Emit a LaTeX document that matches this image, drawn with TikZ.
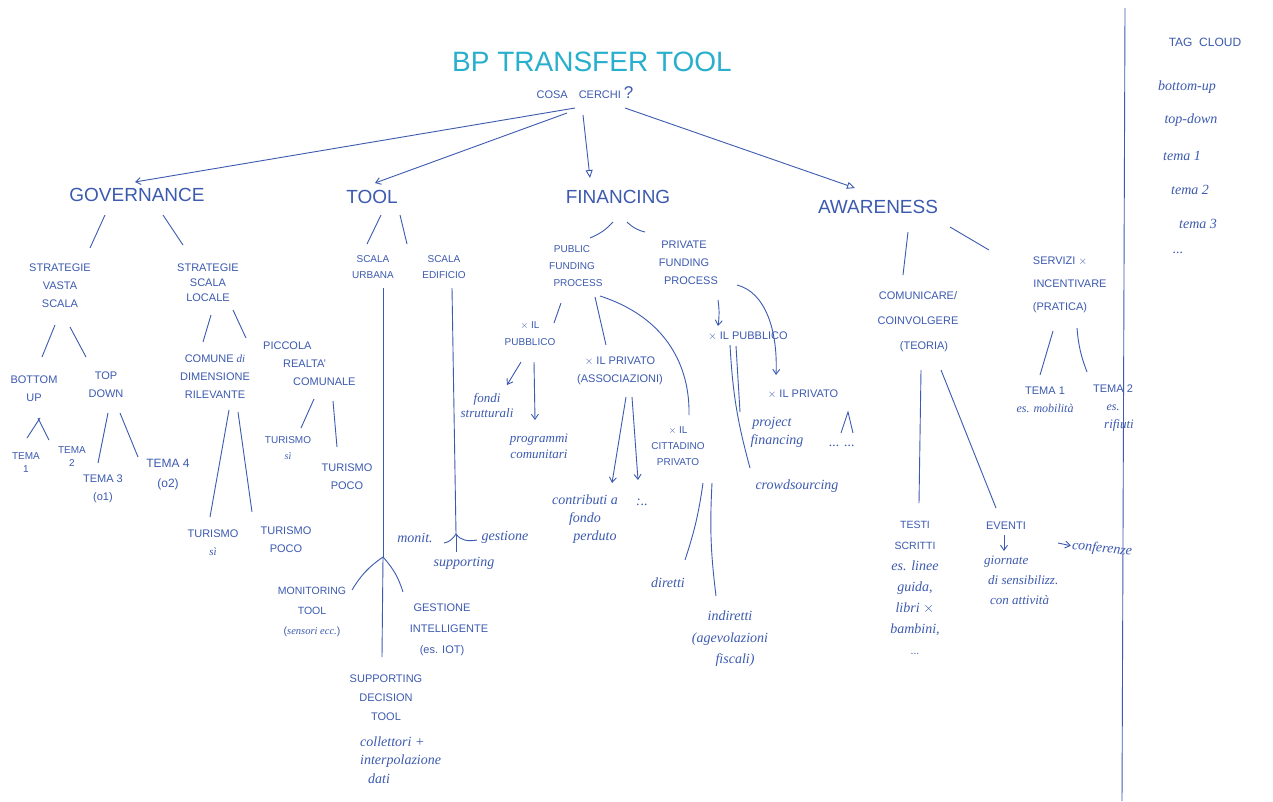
\documentclass[tikz,border=0pt]{standalone}
\usepackage{fontspec}
\setmainfont{Liberation Sans}
\newfontfamily\hand{Liberation Serif}
\usetikzlibrary{arrows.meta}
\definecolor{ink}{RGB}{60,90,175}
\definecolor{titlecol}{RGB}{40,175,205}
\tikzset{
  lab/.style={text=ink, font=\fontsize{11}{18}\selectfont, align=center, inner sep=1pt},
  big/.style={text=ink, font=\fontsize{19}{22}\selectfont, inner sep=1pt},
  cur/.style={text=ink, font=\hand\itshape\fontsize{14}{18}\selectfont, align=center, inner sep=1pt},
  ttl/.style={text=titlecol, font=\fontsize{28}{30}\selectfont, inner sep=1pt},
  ln/.style={draw=ink, line width=0.9pt},
  ar/.style={ln, -{Straight Barb[length=5pt,width=7pt]}},
  tri/.style={ln, -{Triangle[open,length=8pt,width=7pt]}},
}
\begin{document}
\begin{tikzpicture}[x=1pt,y=-1pt]
\fill[white] (0,0) rectangle (1273,801);
\useasboundingbox (0,0) rectangle (1273,801);

% title
\node[ttl] (title) at (592,62) {BP TRANSFER TOOL};
\node[lab] (cosa) at (585,93) {COSA\quad CERCHI\ {\fontsize{17}{17}\selectfont ?}};

% level 1
\node[big] (gov) at (137,195) {GOVERNANCE};
\node[big] (tool) at (372,197) {TOOL};
\node[big] (fin) at (618,197) {FINANCING};
\node[big] (awa) at (878,207) {AWARENESS};

\draw[ar] ([shift={(-10,15)}]cosa.center) -- ([shift={(-2,-13)}]gov.center);
\draw[ar] ([shift={(-18,20)}]cosa.center) -- ([shift={(3,-14)}]tool.center);
\draw[tri] ([shift={(-2,22)}]cosa.center) -- ([shift={(-28,-19)}]fin.center);
\draw[tri] ([shift={(40,15)}]cosa.center) -- ([shift={(-23,-19)}]awa.center);

% GOVERNANCE
\node[lab] (svs) at (60,286) {STRATEGIE\\VASTA\\SCALA};
\node[lab, font=\fontsize{11}{15}\selectfont] (ssl) at (208,283) {STRATEGIE\\SCALA\\LOCALE};
\draw[ln] ([shift={(-32,20)}]gov.center) -- ([shift={(30,-38)}]svs.center);
\draw[ln] ([shift={(26,20)}]gov.center) -- ([shift={(-25,-38)}]ssl.center);

\node[lab] (bu) at (34,389) {BOTTOM\\UP};
\node[lab] (td) at (106,385) {TOP\\DOWN};
\draw[ln] ([shift={(-5,39)}]svs.center) -- ([shift={(8,-32)}]bu.center);
\draw[ln] ([shift={(10,41)}]svs.center) -- ([shift={(-20,-28)}]td.center);

\node[lab, font=\fontsize{10}{13}\selectfont] (t1) at (26,463) {TEMA\\1};
\node[lab, font=\fontsize{10}{13}\selectfont] (t2) at (72,457) {TEMA\\2};
\node[lab] (t3) at (103,489) {TEMA 3\\(o1)};
\node[lab, font=\fontsize{12}{20}\selectfont] (t4) at (168,475) {TEMA 4\\(o2)};
\draw[ln] ([shift={(6,29)}]bu.center) -- ([shift={(1,-25)}]t1.center);
\draw[ln] ([shift={(4,29)}]bu.center) -- ([shift={(-23,-17)}]t2.center);
\draw[ln] ([shift={(2,28)}]td.center) -- ([shift={(-5,-26)}]t3.center);
\draw[ln] ([shift={(14,28)}]td.center) -- ([shift={(-30,-18)}]t4.center);

\node[lab] (cdr) at (215,377) {COMUNE {\hand\itshape di}\\DIMENSIONE\\RILEVANTE};
\node[lab, align=left, anchor=west] (prc) at (262,364) {PICCOLA\\\hspace{20pt}REALTA'\\\hspace{30pt}COMUNALE};
\draw[ln] ([shift={(3,32)}]ssl.center) -- ([shift={(-12,-35)}]cdr.center);
\draw[ln] ([shift={(25,27)}]ssl.center) -- ([shift={(-16,-26)}]prc.west);

\node[lab] (ts1) at (213,543) {TURISMO\\{\hand\itshape s\`i}};
\node[lab] (tp1) at (286,540) {TURISMO\\POCO};
\node[lab, font=\fontsize{10}{16}\selectfont] (ts2) at (288,448) {TURISMO\\{\hand\itshape s\`i}};
\node[lab] (tp2) at (347,477) {TURISMO\\POCO};
\draw[ln] ([shift={(14,33)}]cdr.center) -- ([shift={(-3,-26)}]ts1.center);
\draw[ln] ([shift={(23,35)}]cdr.center) -- ([shift={(-34,-28)}]tp1.center);
\draw[ln] ([shift={(52,35)}]prc.west) -- ([shift={(13,-20)}]ts2.center);
\draw[ln] ([shift={(71,37)}]prc.west) -- ([shift={(-10,-30)}]tp2.center);

% TOOL
\node[lab, font=\fontsize{10}{16}\selectfont] (su) at (373,267) {SCALA\\URBANA};
\node[lab, font=\fontsize{10}{16}\selectfont] (se) at (444,267) {SCALA\\EDIFICIO};
\draw[ln] ([shift={(9,18)}]tool.center) -- ([shift={(-6,-23)}]su.center);
\draw[ln] ([shift={(28,18)}]tool.center) -- ([shift={(-37,-23)}]se.center);

\coordinate (fk) at (383,557);
\node[lab, font=\fontsize{10.5}{20}\selectfont] (mon) at (312,612) {MONITORING\\TOOL\\({\hand\itshape sensori ecc.})};
\node[lab, font=\fontsize{11}{21}\selectfont] (gi) at (442,630) {GESTIONE\\\hspace{14pt}INTELLIGENTE\\(es. IOT)};
\node[lab, font=\fontsize{11}{19}\selectfont] (sdt) at (386,698) {SUPPORTING\\DECISION\\TOOL};
\node[cur, align=left, anchor=west, font=\hand\itshape\fontsize{14}{18.5}\selectfont] (col) at (359,760) {collettori +\\interpolazione\\\hspace{8pt}dati};
\draw[ln] ([shift={(10,21)}]su.center) -- (fk);
\draw[ln] (fk) to[bend right=12] ([shift={(40,-22)}]mon.center);
\draw[ln] (fk) to[bend left=12] ([shift={(-39,-38)}]gi.center);
\draw[ln] (fk) -- ([shift={(-4,-41)}]sdt.center);

\coordinate (sf) at (456,534);
\node[cur] (mn) at (415,538) {monit.};
\node[cur] (ge) at (505,537) {gestione};
\node[cur] (sup) at (464,563) {supporting};
\draw[ln] ([shift={(8,21)}]se.center) -- (sf);
\draw[ln] (sf) -- ([shift={(-8,-11)}]sup.center);
\draw[ln] (sf) to[out=235,in=10] ([shift={(29,5)}]mn.center);
\draw[ln] (sf) to[out=305,in=190] ([shift={(-28,3)}]ge.center);

% FINANCING
\node[lab, font=\fontsize{10}{17}\selectfont] (pfp) at (572,266) {PUBLIC\\FUNDING\\\hspace{12pt}PROCESS};
\node[lab] (vfp) at (684,263) {PRIVATE\\FUNDING\\\hspace{14pt}PROCESS};
\draw[ln] ([shift={(-5,25)}]fin.center) to[bend left=12] ([shift={(18,-28)}]pfp.center);
\draw[ln] ([shift={(9,25)}]fin.center) to[bend right=15] ([shift={(-39,-31)}]vfp.center);

\node[lab, font=\fontsize{10}{17}\selectfont] (xp1) at (530,334) {$\times$ IL\\PUBBLICO};
\node[lab] (xpa) at (620,371) {$\times$ IL PRIVATO\\(ASSOCIAZIONI)};
\node[lab, font=\fontsize{10}{16}\selectfont] (xcp) at (678,446) {$\times$ IL\\CITTADINO\\PRIVATO};
\draw[ln] ([shift={(-11,37)}]pfp.center) -- ([shift={(24,-11)}]xp1.center);
\draw[ln] ([shift={(23,31)}]pfp.center) -- ([shift={(-14,-26)}]xpa.center);
\draw[ln] ([shift={(28,30)}]pfp.center) .. controls (668,318) and (690,368) .. ([shift={(11,-31)}]xcp.center);

\node[cur, font=\hand\itshape\fontsize{13}{15}\selectfont] (fs) at (487,405) {fondi\\strutturali};
\node[cur, font=\hand\itshape\fontsize{13}{16}\selectfont] (pc) at (539,446) {programmi\\comunitari};
\draw[ar] ([shift={(-9,28)}]xp1.center) -- ([shift={(20,-20)}]fs.center);
\draw[ar] ([shift={(4,28)}]xp1.center) -- ([shift={(-4,-26)}]pc.center);

\node[cur] (cfp) at (585,519) {contributi a\\fondo\\\hspace{20pt}perduto};
\node[cur] (dots1) at (642,502) {:..};
\draw[ar] ([shift={(6,26)}]xpa.center) -- ([shift={(27,-36)}]cfp.center);
\draw[ar] ([shift={(12,26)}]xpa.center) -- ([shift={(-4,-22)}]dots1.center);

\node[cur] (dir) at (668,583) {diretti};
\node[cur, font=\hand\itshape\fontsize{14}{21.5}\selectfont] (ind) at (730,639) {indiretti\\(agevolazioni\\\hspace{10pt}fiscali)};
\draw[ln] ([shift={(25,37)}]xcp.center) to[bend left=5] ([shift={(17,-23)}]dir.center);
\draw[ln] ([shift={(34,37)}]xcp.center) to[bend right=5] ([shift={(-14,-43)}]ind.center);

\node[lab] (xp2) at (748,336) {$\times$ IL PUBBLICO};
\node[lab] (xv2) at (803,394) {$\times$ IL PRIVATO};
\draw[ar] ([shift={(34,37)}]vfp.center) to[bend left=8] ([shift={(-30,-10)}]xp2.center);
\draw[ar] ([shift={(53,22)}]vfp.center) .. controls (765,292) and (778,330) .. ([shift={(-27,-19)}]xv2.center);

\node[cur] (pf) at (772,432) {project\\\hspace{10pt}financing};
\node[cur] (cs) at (797,486) {crowdsourcing};
\node[cur] (dots2) at (842,446) {... ...};
\draw[ln] ([shift={(-12,10)}]xp2.center) -- ([shift={(-32,-20)}]pf.center);
\draw[ln] ([shift={(-18,9)}]xp2.center) to[bend right=6] ([shift={(-47,-18)}]cs.center);
\coordinate (apx) at ([shift={(45,18)}]xv2.center);
\draw[ln] ([shift={(-1,-13)}]dots2.center) -- (apx) -- ([shift={(11,-13)}]dots2.center);

% AWARENESS
\node[lab, font=\fontsize{11}{25}\selectfont] (cc) at (918,322) {COMUNICARE/\\COINVOLGERE\\\hspace{12pt}(TEORIA)};
\node[lab, font=\fontsize{11}{23}\selectfont] (si) at (1060,285) {SERVIZI $\times$\\\hspace{20pt}INCENTIVARE\\(PRATICA)};
\draw[ln] ([shift={(30,25)}]awa.center) -- ([shift={(-15,-47)}]cc.center);
\draw[ln] ([shift={(72,20)}]awa.center) -- ([shift={(-71,-35)}]si.center);

\node[lab, font=\fontsize{10.5}{21}\selectfont] (ts) at (915,588) {TESTI\\SCRITTI\\{\hand\itshape\fontsize{14}{21}\selectfont es. linee}\\{\hand\itshape\fontsize{14}{21}\selectfont guida,}\\{\hand\itshape\fontsize{14}{21}\selectfont libri $\times$}\\{\hand\itshape\fontsize{14}{21}\selectfont bambini,}\\...};
\node[lab] (ev) at (1006,526) {EVENTI};
\draw[ln] ([shift={(3,48)}]cc.center) -- ([shift={(4,-85)}]ts.center);
\draw[ln] ([shift={(23,48)}]cc.center) -- ([shift={(-10,-18)}]ev.center);

\node[cur, align=left, anchor=west, font=\hand\itshape\fontsize{13}{20}\selectfont] (gsa) at (983,580) {giornate\\\hspace{4pt}di sensibilizz.\\\hspace{6pt}con attivit\`a};
\node[cur, rotate=-6] (conf) at (1102,549) {conferenze};
\draw[ar] ([shift={(-2,9)}]ev.center) -- ([shift={(21,-29)}]gsa.west);
\draw[ar] ([shift={(52,17)}]ev.center) -- (conf.west);

\node[lab] (tm1) at (1045,400) {TEMA 1\\{\hand\itshape\fontsize{12}{18}\selectfont es. mobilit\`a}};
\node[lab] (tm2) at (1113,408) {TEMA 2\\{\hand\itshape\fontsize{12}{18}\selectfont es.}\\{\hand\itshape\fontsize{13}{18}\selectfont\hspace{12pt}rifiuti}};
\draw[ln] ([shift={(-7,46)}]si.center) -- ([shift={(-5,-25)}]tm1.center);
\draw[ln] ([shift={(17,43)}]si.center) to[bend right=8] ([shift={(-26,-36)}]tm2.center);

% separator and tag cloud
\draw[ln] (1125,8) -- (1122,801);
\node[lab, font=\fontsize{12}{14}\selectfont] (tag) at (1205,42) {TAG\ \ CLOUD};
\node[cur] (tg1) at (1187,87) {bottom-up};
\node[cur] (tg2) at (1191,120) {top-down};
\node[cur] (tg3) at (1182,156) {tema 1};
\node[cur] (tg4) at (1190,190) {tema 2};
\node[cur] (tg5) at (1198,224) {tema 3};
\node[cur] (tg6) at (1178,253) {...};
\end{tikzpicture}
\end{document}
